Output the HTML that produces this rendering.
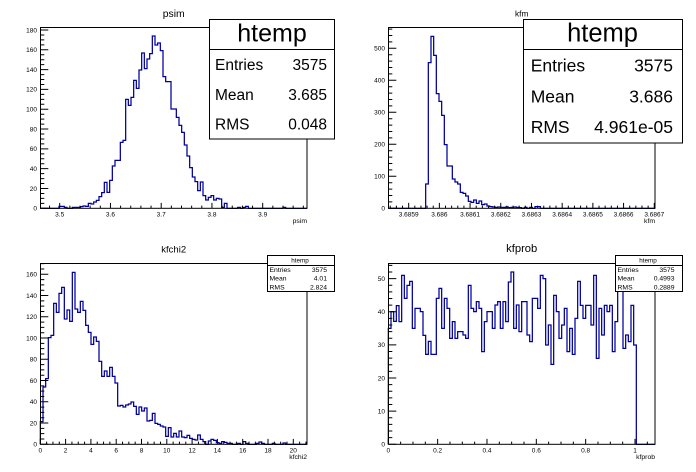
<!DOCTYPE html>
<html><head><meta charset="utf-8"><style>
html,body{margin:0;padding:0;background:#fff;}
svg{display:block;}
text{font-family:"Liberation Sans",Arial,sans-serif;fill:#000;}
.t{font-size:6.5px;}
.ax{font-size:6.8px;}
.h{fill:none;stroke:#00009c;stroke-width:1.25;vector-effect:non-scaling-stroke;}
.k{fill:none;stroke:#000;stroke-width:1;}
</style></head><body>
<svg width="696" height="472" viewBox="0 0 696 472" xmlns="http://www.w3.org/2000/svg">
<rect x="0" y="0" width="696" height="472" fill="#fff"/>

<!-- ===== Pad 1: psim ===== -->
<g transform="scale(0.333333)">
<path class="h" d="M121,625 H177 V619 H193 V622 H201 V625 H217 V622 H241 V620 H249 V618 H257 V619 H265 V610 H273 V612 H281 V606 H289 V601 H297 V590 H305 V578 H313 V547 H321 V577 H329 V541 H337 V498 H345 V481 H361 V427 H369 V421 H377 V298 H385 V316 H393 V292 H401 V241 H409 V265 H417 V210 H425 V159 H433 V206 H441 V177 H449 V161 H457 V108 H465 V135 H473 V129 H481 V152 H489 V230 H497 V245 H513 V327 H529 V352 H537 V376 H545 V397 H553 V435 H561 V468 H569 V503 H577 V531 H585 V545 H593 V572 H601 V546 H609 V587 H617 V600 H625 V592 H633 V587 H641 V600 H649 V595 H657 V597 H665 V622 H673 V610 H681 V625 H713 V622 H721 V625 H729 V622 H737 V619 H745 V625 H849 V622 H857 V625 H921"/>
</g>
<rect class="k" x="40.5" y="27.5" width="266.5" height="180.8"/>
<path class="k" d="M49.55 208.3v-2.7M59.7 208.3v-5.4M69.85 208.3v-2.7M80 208.3v-2.7M90.15 208.3v-2.7M100.3 208.3v-2.7M110.45 208.3v-5.4M120.6 208.3v-2.7M130.75 208.3v-2.7M140.9 208.3v-2.7M151.05 208.3v-2.7M161.2 208.3v-5.4M171.35 208.3v-2.7M181.5 208.3v-2.7M191.65 208.3v-2.7M201.8 208.3v-2.7M211.95 208.3v-5.4M222.1 208.3v-2.7M232.25 208.3v-2.7M242.4 208.3v-2.7M252.55 208.3v-2.7M262.7 208.3v-5.4M272.85 208.3v-2.7M283 208.3v-2.7M293.15 208.3v-2.7M303.3 208.3v-2.7"/>
<path class="k" d="M40.3 208.3h8M40.3 203.35h4M40.3 198.39h4M40.3 193.44h4M40.3 188.49h8M40.3 183.53h4M40.3 178.58h4M40.3 173.63h4M40.3 168.68h8M40.3 163.72h4M40.3 158.77h4M40.3 153.82h4M40.3 148.86h8M40.3 143.91h4M40.3 138.96h4M40.3 134h4M40.3 129.05h8M40.3 124.1h4M40.3 119.15h4M40.3 114.19h4M40.3 109.24h8M40.3 104.29h4M40.3 99.33h4M40.3 94.38h4M40.3 89.43h8M40.3 84.47h4M40.3 79.52h4M40.3 74.57h4M40.3 69.62h8M40.3 64.66h4M40.3 59.71h4M40.3 54.76h4M40.3 49.8h8M40.3 44.85h4M40.3 39.9h4M40.3 34.94h4M40.3 29.99h8"/>
<g class="t" text-anchor="middle">
<text x="59.7" y="216.5">3.5</text><text x="110.45" y="216.5">3.6</text><text x="161.2" y="216.5">3.7</text><text x="211.95" y="216.5">3.8</text><text x="262.7" y="216.5">3.9</text>
</g>
<g class="t" text-anchor="end">
<text x="37" y="210.6">0</text><text x="37" y="190.8">20</text><text x="37" y="171">40</text><text x="37" y="151.2">60</text><text x="37" y="131.4">80</text><text x="37" y="111.5">100</text><text x="37" y="91.7">120</text><text x="37" y="71.9">140</text><text x="37" y="52.1">160</text><text x="37" y="32.3">180</text>
</g>
<text x="173.7" y="17" font-size="10.4" text-anchor="middle">psim</text>
<text class="ax" x="307" y="223" text-anchor="end">psim</text>
<rect x="209.5" y="19.5" width="125" height="119.5" fill="#fff" stroke="#000" stroke-width="1"/>
<line x1="209.5" y1="49.5" x2="334.5" y2="49.5" stroke="#000" stroke-width="1"/>
<text x="272" y="41.5" font-size="25" text-anchor="middle">htemp</text>
<g font-size="15.5">
<text x="215" y="70">Entries</text><text x="327" y="70" text-anchor="end">3575</text>
<text x="215" y="100">Mean</text><text x="327" y="100" text-anchor="end">3.685</text>
<text x="215" y="129.7">RMS</text><text x="327" y="129.7" text-anchor="end">0.048</text>
</g>

<!-- ===== Pad 2: kfm ===== -->
<g transform="translate(348,0) scale(0.333333)">
<path class="h" d="M121,625 H233 V552 H241 V188 H249 V109 H257 V166 H265 V281 H273 V304 H281 V346 H289 V434 H297 V498 H313 V537 H321 V546 H329 V552 H337 V577 H345 V580 H353 V588 H361 V604 H369 V607 H377 V600 H385 V610 H393 V603 H401 V614 H409 V612 H417 V618 H425 V620 H433 V621 H441 V622 H449 V621 H457 V622 H473 V621 H481 V623 H489 V622 H497 V621 H505 V622 H513 V623 H521 V625 H529 V622 H537 V625 H545 V622 H553 V625 H561 V620 H577 V625 H921"/>
</g>
<rect class="k" x="388.5" y="27.5" width="266.5" height="180.8"/>
<path class="k" d="M390.25 208.3v-2.7M396.39 208.3v-2.7M402.53 208.3v-2.7M408.67 208.3v-5.4M414.81 208.3v-2.7M420.95 208.3v-2.7M427.09 208.3v-2.7M433.23 208.3v-2.7M439.37 208.3v-5.4M445.51 208.3v-2.7M451.65 208.3v-2.7M457.79 208.3v-2.7M463.93 208.3v-2.7M470.07 208.3v-5.4M476.21 208.3v-2.7M482.35 208.3v-2.7M488.49 208.3v-2.7M494.63 208.3v-2.7M500.77 208.3v-5.4M506.91 208.3v-2.7M513.05 208.3v-2.7M519.19 208.3v-2.7M525.33 208.3v-2.7M531.47 208.3v-5.4M537.61 208.3v-2.7M543.75 208.3v-2.7M549.89 208.3v-2.7M556.03 208.3v-2.7M562.17 208.3v-5.4M568.31 208.3v-2.7M574.45 208.3v-2.7M580.59 208.3v-2.7M586.73 208.3v-2.7M592.87 208.3v-5.4M599.01 208.3v-2.7M605.15 208.3v-2.7M611.29 208.3v-2.7M617.43 208.3v-2.7M623.57 208.3v-5.4M629.71 208.3v-2.7M635.85 208.3v-2.7M641.99 208.3v-2.7M648.13 208.3v-2.7M654.27 208.3v-5.4"/>
<path class="k" d="M388.3 208.3h8M388.3 201.9h4M388.3 195.5h4M388.3 189.1h4M388.3 182.7h4M388.3 176.3h8M388.3 169.9h4M388.3 163.5h4M388.3 157.1h4M388.3 150.7h4M388.3 144.3h8M388.3 137.9h4M388.3 131.5h4M388.3 125.1h4M388.3 118.7h4M388.3 112.3h8M388.3 105.9h4M388.3 99.5h4M388.3 93.1h4M388.3 86.7h4M388.3 80.3h8M388.3 73.9h4M388.3 67.5h4M388.3 61.1h4M388.3 54.7h4M388.3 48.3h8M388.3 41.9h4M388.3 35.5h4M388.3 29.1h4"/>
<g class="t" text-anchor="middle">
<text x="408.67" y="216.5">3.6859</text><text x="439.37" y="216.5">3.686</text><text x="470.07" y="216.5">3.6861</text><text x="500.77" y="216.5">3.6862</text><text x="531.47" y="216.5">3.6863</text><text x="562.17" y="216.5">3.6864</text><text x="592.87" y="216.5">3.6865</text><text x="623.57" y="216.5">3.6866</text><text x="654.27" y="216.5">3.6867</text>
</g>
<g class="t" text-anchor="end">
<text x="385" y="210.6">0</text><text x="385" y="178.6">100</text><text x="385" y="146.6">200</text><text x="385" y="114.6">300</text><text x="385" y="82.6">400</text><text x="385" y="50.6">500</text>
</g>
<text x="521.7" y="16.7" font-size="8.3" text-anchor="middle">kfm</text>
<text class="ax" x="655" y="223" text-anchor="end">kfm</text>
<rect x="523.5" y="19.5" width="159" height="123.5" fill="#fff" stroke="#000" stroke-width="1"/>
<line x1="523.5" y1="49.5" x2="682.5" y2="49.5" stroke="#000" stroke-width="1"/>
<text x="602.5" y="41.5" font-size="25.5" text-anchor="middle">htemp</text>
<g font-size="17.5">
<text x="530.7" y="71.5">Entries</text><text x="673" y="71.5" text-anchor="end">3575</text>
<text x="530.7" y="102.3">Mean</text><text x="673" y="102.3" text-anchor="end">3.686</text>
<text x="530.7" y="133.2">RMS</text><text x="673" y="133.2" text-anchor="end">4.961e-05</text>
</g>

<!-- ===== Pad 3: kfchi2 ===== -->
<g transform="translate(0,236) scale(0.333333)">
<path class="h" d="M121,625 V557 H129 V453 H137 V428 H145 V305 H153 V298 H161 V202 H169 V229 H177 V172 H185 V154 H193 V249 H201 V222 H209 V256 H217 V109 H225 V219 H233 V229 H241 V196 H249 V223 H257 V268 H265 V289 H273 V325 H281 V303 H289 V316 H297 V376 H305 V421 H313 V405 H321 V421 H329 V394 H337 V421 H345 V441 H353 V510 H361 V508 H369 V513 H377 V507 H385 V504 H393 V498 H401 V511 H409 V535 H417 V513 H425 V525 H433 V516 H441 V555 H449 V553 H457 V532 H465 V562 H473 V565 H481 V570 H489 V573 H497 V601 H505 V575 H513 V603 H521 V592 H529 V603 H537 V585 H545 V603 H553 V605 H561 V598 H569 V607 H577 V610 H585 V612 H593 V597 H601 V610 H609 V617 H617 V625 H625 V615 H633 V610 H641 V613 H649 V620 H657 V622 H665 V617 H673 V619 H681 V622 H697 V625 H713 V622 H721 V625 H729 V617 H737 V622 H745 V625 H769 V622 H777 V618 H785 V622 H793 V625 H817 V622 H825 V625 H849 V621 H857 V625 H921"/>
</g>
<rect class="k" x="40.5" y="263.5" width="266.5" height="180.8"/>
<path class="k" d="M40.3 444.3v-5.4M46.63 444.3v-2.7M52.95 444.3v-2.7M59.28 444.3v-2.7M65.6 444.3v-5.4M71.93 444.3v-2.7M78.25 444.3v-2.7M84.58 444.3v-2.7M90.9 444.3v-5.4M97.23 444.3v-2.7M103.55 444.3v-2.7M109.88 444.3v-2.7M116.2 444.3v-5.4M122.53 444.3v-2.7M128.85 444.3v-2.7M135.18 444.3v-2.7M141.5 444.3v-5.4M147.83 444.3v-2.7M154.15 444.3v-2.7M160.48 444.3v-2.7M166.8 444.3v-5.4M173.13 444.3v-2.7M179.45 444.3v-2.7M185.78 444.3v-2.7M192.1 444.3v-5.4M198.43 444.3v-2.7M204.75 444.3v-2.7M211.08 444.3v-2.7M217.4 444.3v-5.4M223.73 444.3v-2.7M230.05 444.3v-2.7M236.38 444.3v-2.7M242.7 444.3v-5.4M249.03 444.3v-2.7M255.35 444.3v-2.7M261.68 444.3v-2.7M268 444.3v-5.4M274.33 444.3v-2.7M280.65 444.3v-2.7M286.98 444.3v-2.7M293.3 444.3v-5.4M299.63 444.3v-2.7M305.95 444.3v-2.7"/>
<path class="k" d="M40.3 444.3h8M40.3 438.99h4M40.3 433.68h4M40.3 428.36h4M40.3 423.05h8M40.3 417.74h4M40.3 412.43h4M40.3 407.11h4M40.3 401.8h8M40.3 396.49h4M40.3 391.18h4M40.3 385.86h4M40.3 380.55h8M40.3 375.24h4M40.3 369.93h4M40.3 364.61h4M40.3 359.3h8M40.3 353.99h4M40.3 348.68h4M40.3 343.36h4M40.3 338.05h8M40.3 332.74h4M40.3 327.43h4M40.3 322.11h4M40.3 316.8h8M40.3 311.49h4M40.3 306.18h4M40.3 300.86h4M40.3 295.55h8M40.3 290.24h4M40.3 284.93h4M40.3 279.61h4M40.3 274.3h8M40.3 268.99h4M40.3 263.68h4"/>
<g class="t" text-anchor="middle">
<text x="40.3" y="452.5">0</text><text x="65.6" y="452.5">2</text><text x="90.9" y="452.5">4</text><text x="116.2" y="452.5">6</text><text x="141.5" y="452.5">8</text><text x="166.8" y="452.5">10</text><text x="192.1" y="452.5">12</text><text x="217.4" y="452.5">14</text><text x="242.7" y="452.5">16</text><text x="268" y="452.5">18</text><text x="293.3" y="452.5">20</text>
</g>
<g class="t" text-anchor="end">
<text x="37" y="446.6">0</text><text x="37" y="425.4">20</text><text x="37" y="404.1">40</text><text x="37" y="382.9">60</text><text x="37" y="361.6">80</text><text x="37" y="340.4">100</text><text x="37" y="319.1">120</text><text x="37" y="297.9">140</text><text x="37" y="276.6">160</text>
</g>
<text x="173.7" y="252.3" font-size="9.5" text-anchor="middle">kfchi2</text>
<text class="ax" x="307" y="459" text-anchor="end">kfchi2</text>
<rect x="267.5" y="255.5" width="67" height="36" fill="#fff" stroke="#000" stroke-width="1"/>
<line x1="267.5" y1="265.5" x2="334.5" y2="265.5" stroke="#000" stroke-width="1"/>
<text x="300" y="262.3" font-size="6.3" text-anchor="middle">htemp</text>
<g font-size="6.8">
<text x="269.5" y="271.8">Entries</text><text x="327" y="271.8" text-anchor="end">3575</text>
<text x="269.5" y="280.6">Mean</text><text x="327" y="280.6" text-anchor="end">4.01</text>
<text x="269.5" y="289.4">RMS</text><text x="327" y="289.4" text-anchor="end">2.824</text>
</g>

<!-- ===== Pad 4: kfprob ===== -->
<g transform="translate(348,236) scale(0.333333)">
<path class="h" d="M121,625 V277 H129 V227 H137 V256 H145 V209 H153 V257 H161 V118 H169 V187 H177 V148 H185 V136 H193 V277 H201 V217 H217 V227 H225 V298 H233 V355 H241 V316 H249 V355 H265 V187 H273 V157 H281 V277 H289 V187 H297 V217 H305 V307 H313 V257 H321 V307 H329 V287 H345 V297 H353 V307 H361 V148 H369 V217 H377 V227 H385 V197 H393 V217 H401 V347 H409 V257 H417 V227 H433 V277 H441 V207 H449 V197 H457 V277 H465 V197 H473 V257 H481 V138 H489 V108 H497 V277 H505 V207 H513 V287 H521 V197 H537 V297 H545 V317 H553 V187 H569 V217 H577 V118 H585 V128 H593 V327 H601 V267 H609 V385 H617 V178 H625 V227 H633 V307 H641 V267 H649 V217 H657 V347 H665 V277 H673 V355 H681 V247 H689 V136 H697 V208 H705 V247 H713 V208 H729 V267 H737 V118 H745 V367 H753 V217 H761 V297 H769 V208 H777 V227 H785 V208 H793 V347 H801 V257 H809 V130 H825 V337 H833 V297 H841 V317 H849 V208 H857 V327 H865 V625 H921"/>
</g>
<rect class="k" x="388.5" y="263.5" width="266.5" height="180.8"/>
<path class="k" d="M388.3 444.3v-5.4M400.64 444.3v-2.7M412.97 444.3v-2.7M425.31 444.3v-2.7M437.64 444.3v-5.4M449.98 444.3v-2.7M462.31 444.3v-2.7M474.65 444.3v-2.7M486.98 444.3v-5.4M499.32 444.3v-2.7M511.65 444.3v-2.7M523.99 444.3v-2.7M536.32 444.3v-5.4M548.66 444.3v-2.7M560.99 444.3v-2.7M573.33 444.3v-2.7M585.66 444.3v-5.4M598 444.3v-2.7M610.33 444.3v-2.7M622.67 444.3v-2.7M635 444.3v-5.4M647.34 444.3v-2.7"/>
<path class="k" d="M388.3 444.3h8M388.3 437.67h4M388.3 431.05h4M388.3 424.42h4M388.3 417.8h4M388.3 411.17h8M388.3 404.54h4M388.3 397.92h4M388.3 391.29h4M388.3 384.67h4M388.3 378.04h8M388.3 371.41h4M388.3 364.79h4M388.3 358.16h4M388.3 351.54h4M388.3 344.91h8M388.3 338.28h4M388.3 331.66h4M388.3 325.03h4M388.3 318.41h4M388.3 311.78h8M388.3 305.15h4M388.3 298.53h4M388.3 291.9h4M388.3 285.28h4M388.3 278.65h8M388.3 272.02h4M388.3 265.4h4"/>
<g class="t" text-anchor="middle">
<text x="388.3" y="452.5">0</text><text x="437.64" y="452.5">0.2</text><text x="486.98" y="452.5">0.4</text><text x="536.32" y="452.5">0.6</text><text x="585.66" y="452.5">0.8</text><text x="635" y="452.5">1</text>
</g>
<g class="t" text-anchor="end">
<text x="385" y="446.6">0</text><text x="385" y="413.5">10</text><text x="385" y="380.3">20</text><text x="385" y="347.2">30</text><text x="385" y="314.1">40</text><text x="385" y="281">50</text>
</g>
<text x="521.7" y="252" font-size="11.2" text-anchor="middle">kfprob</text>
<text class="ax" x="655" y="459" text-anchor="end">kfprob</text>
<rect x="615.5" y="255.5" width="67" height="36" fill="#fff" stroke="#000" stroke-width="1"/>
<line x1="615.5" y1="265.5" x2="682.5" y2="265.5" stroke="#000" stroke-width="1"/>
<text x="648" y="262.3" font-size="6.3" text-anchor="middle">htemp</text>
<g font-size="6.8">
<text x="617.5" y="271.8">Entries</text><text x="674.5" y="271.8" text-anchor="end">3575</text>
<text x="617.5" y="280.6">Mean</text><text x="674.5" y="280.6" text-anchor="end">0.4993</text>
<text x="617.5" y="289.4">RMS</text><text x="674.5" y="289.4" text-anchor="end">0.2889</text>
</g>
</svg>
</body></html>
